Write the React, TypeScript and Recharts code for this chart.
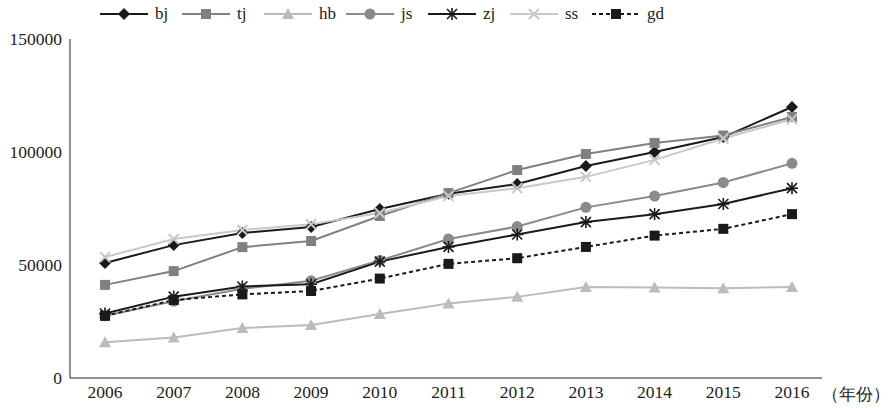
import { LineChart, Line, XAxis, YAxis } from "recharts"

const years = ["2006", "2007", "2008", "2009", "2010", "2011", "2012", "2013", "2014", "2015", "2016"]
const bj = [50900, 58800, 64200, 66800, 74800, 81500, 85800, 93800, 100000, 106600, 119900]
const tj = [41200, 47300, 57900, 60600, 71700, 81800, 92000, 99100, 104000, 107300, 115500]
const hb = [15800, 17900, 22100, 23500, 28300, 33000, 35900, 40300, 40000, 39700, 40300]
const js = [27500, 34000, 39500, 43000, 52000, 61500, 67000, 75500, 80500, 86500, 95000]
const zj = [28500, 36000, 40500, 41500, 51500, 58000, 63500, 69000, 72500, 77000, 84000]
const ss = [53500, 61500, 65500, 68000, 73000, 80500, 84000, 89000, 96500, 106000, 114500]
const gd = [27500, 34500, 37000, 38500, 44000, 50500, 53000, 58000, 63000, 66000, 72500]

const data = years.map((y, i) => ({
  year: y, bj: bj[i], tj: tj[i], hb: hb[i], js: js[i], zj: zj[i], ss: ss[i], gd: gd[i],
}))

const series = [
  { key: "bj", color: "#1a1a1a", mark: "diamond", dash: undefined },
  { key: "tj", color: "#808080", mark: "square", dash: undefined },
  { key: "hb", color: "#bcbcbc", mark: "triangle", dash: undefined },
  { key: "js", color: "#8a8a8a", mark: "circle", dash: undefined },
  { key: "zj", color: "#1a1a1a", mark: "star", dash: undefined },
  { key: "ss", color: "#c8c8c8", mark: "cross", dash: undefined },
  { key: "gd", color: "#1a1a1a", mark: "square", dash: "4 3" },
]

function Mark({ cx, cy, mark, color }: any) {
  if (cx == null || cy == null) return null
  const s = 5
  if (mark === "diamond") return <polygon points={`${cx},${cy - 6} ${cx + 6},${cy} ${cx},${cy + 6} ${cx - 6},${cy}`} fill={color} />
  if (mark === "square") return <rect x={cx - s} y={cy - s} width={2 * s} height={2 * s} fill={color} />
  if (mark === "triangle") return <polygon points={`${cx},${cy - 6} ${cx + 6},${cy + 5} ${cx - 6},${cy + 5}`} fill={color} />
  if (mark === "circle") return <circle cx={cx} cy={cy} r={5.5} fill={color} />
  if (mark === "cross")
    return (
      <g stroke={color} strokeWidth={2}>
        <line x1={cx - 5} y1={cy - 5} x2={cx + 5} y2={cy + 5} />
        <line x1={cx - 5} y1={cy + 5} x2={cx + 5} y2={cy - 5} />
      </g>
    )
  return (
    <g stroke={color} strokeWidth={1.6}>
      <line x1={cx - 5} y1={cy - 5} x2={cx + 5} y2={cy + 5} />
      <line x1={cx - 5} y1={cy + 5} x2={cx + 5} y2={cy - 5} />
      <line x1={cx - 6} y1={cy} x2={cx + 6} y2={cy} />
      <line x1={cx} y1={cy - 6} x2={cx} y2={cy + 6} />
    </g>
  )
}

const font = "'Liberation Serif', 'DejaVu Serif', serif"

export default function App() {
  return (
    <div style={{ position: "absolute", left: 0, top: 0, width: 896, height: 408, background: "#fff", fontFamily: font }}>
      <svg width={896} height={30} style={{ position: "absolute", left: 0, top: 0 }}>
        {series.map((s, i) => {
          const x0 = 100 + i * 82
          return (
            <g key={s.key}>
              <line x1={x0} y1={14} x2={x0 + 48} y2={14} stroke={s.color} strokeWidth={2} strokeDasharray={s.dash} />
              <Mark cx={x0 + 24} cy={14} mark={s.mark} color={s.color} />
              <text x={x0 + 55} y={19} fontSize={17} fontFamily={font} fill="#222">{s.key}</text>
            </g>
          )
        })}
      </svg>
      <LineChart width={896} height={408} data={data} margin={{ top: 39, right: 74, bottom: 0, left: 0 }}>
        <XAxis dataKey="year" height={30} padding={{ left: 35, right: 30 }} tickLine={false}
          stroke="#222" tick={{ fill: "#222", fontSize: 17.5, fontFamily: font }} />
        <YAxis domain={[0, 150000]} ticks={[0, 50000, 100000, 150000]} width={70} tickLine={false}
          stroke="#222" tick={{ fill: "#222", fontSize: 17.5, fontFamily: font }} />
        {series.map((s) => (
          <Line key={s.key} dataKey={s.key} stroke={s.color} strokeWidth={2} strokeDasharray={s.dash}
            isAnimationActive={false} dot={(p: any) => <Mark key={p.index} cx={p.cx} cy={p.cy} mark={s.mark} color={s.color} />} />
        ))}
      </LineChart>
      <div style={{ position: "absolute", left: 822, top: 383, fontSize: 17, color: "#222" }}>（年份）</div>
    </div>
  )
}
